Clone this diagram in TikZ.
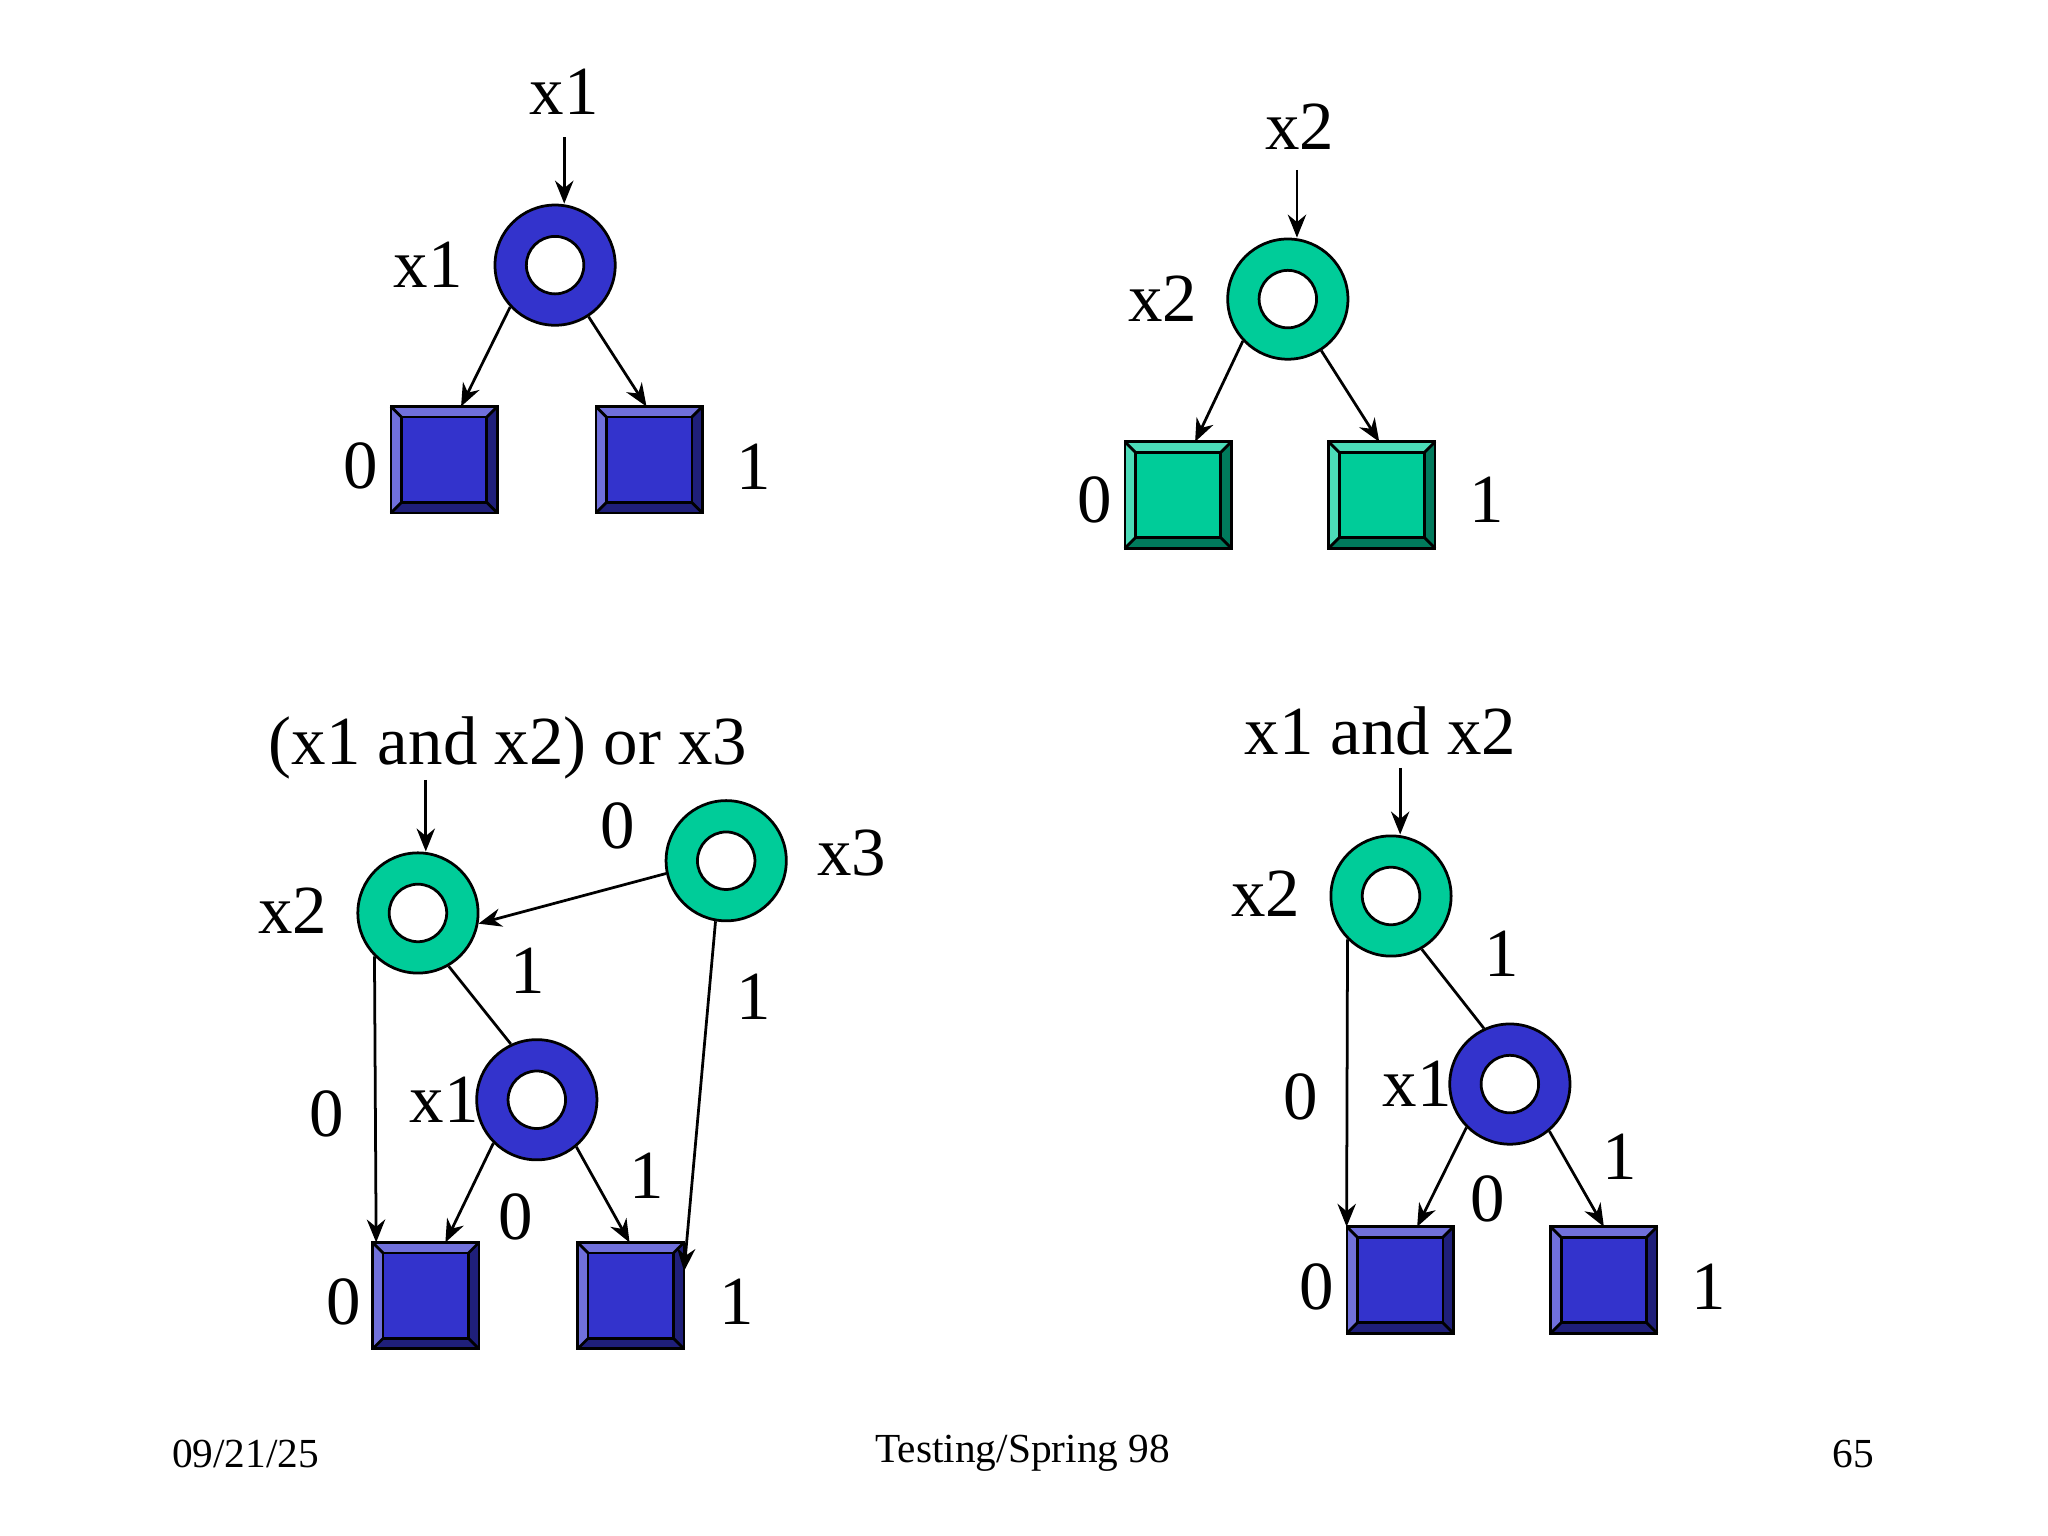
\documentclass[tikz,border=0pt]{standalone}
\usepackage{fontspec}
\setmainfont{Liberation Serif}
\usetikzlibrary{arrows.meta,calc}
\definecolor{bl}{RGB}{51,51,204}
\definecolor{gr}{RGB}{0,204,153}
\tikzset{
  lab/.style={font=\fontsize{15}{17}\selectfont, inner sep=0pt},
  foot/.style={font=\fontsize{9}{11}\selectfont, inner sep=0pt},
  ring/.style={circle, draw=black, line width=0.6pt, fill=#1, minimum size=0.92cm, inner sep=0pt},
  hole/.style={circle, draw=black, line width=0.6pt, fill=white, minimum size=0.44cm, inner sep=0pt},
  arr/.style={-{Stealth[length=5pt,width=4pt]}, line width=0.6pt},
  ln/.style={line width=0.6pt},
  sq/.style={minimum size=0.8cm, inner sep=0pt}
}
\newcommand{\mkring}[4]{\node[ring=#4] (#1) at (#2,#3) {}; \node[hole] at (#1) {};}
\newcommand{\mkbox}[4]{%
  \node[sq] (#1) at (#2,#3) {};
  \fill[#4] (#1.south west) rectangle (#1.north east);
  \fill[#4!70!white] (#1.south west) -- ($(#1.south west)+(8,-8)$) -- ($(#1.north west)+(8,8)$) -- ($(#1.north east)+(-8,8)$) -- (#1.north east) -- (#1.north west) -- cycle;
  \fill[#4!60!black] (#1.south west) -- ($(#1.south west)+(8,-8)$) -- ($(#1.south east)+(-8,-8)$) -- ($(#1.north east)+(-8,8)$) -- (#1.north east) -- (#1.south east) -- cycle;
  \draw[ln] ($(#1.south west)+(8,-8)$) rectangle ($(#1.north east)+(-8,8)$);
  \draw[ln] (#1.south west) -- ($(#1.south west)+(8,-8)$) (#1.north west) -- ($(#1.north west)+(8,8)$) (#1.north east) -- ($(#1.north east)+(-8,8)$) (#1.south east) -- ($(#1.south east)+(-8,-8)$);
  \draw[ln] (#1.south west) rectangle (#1.north east);}
\begin{document}
\begin{tikzpicture}[x=0.01cm,y=-0.01cm]
\useasboundingbox (0,0) rectangle (1568,1176);
% top-left
\node[lab] (t1) at (432,70) {x1};
\mkring{a}{425}{203}{bl}
\node[lab] at (328,203) {x1};
\mkbox{a0}{340}{352}{bl}\mkbox{a1}{497}{352}{bl}
\node[lab] at (276,357) {0};\node[lab] at (577,357) {1};
\coordinate (ta) at (432,105);
\draw[arr] (ta) -- (ta |- a.north);
\draw[arr] (a.-137) -- ($(a0.north)+(13,0)$);
\draw[arr] (a.-57) -- ($(a1.north)+(-2,0)$);
% top-right
\node[lab] (t2) at (995,97) {x2};
\mkring{b}{986}{229}{gr}
\node[lab] at (890,229) {x2};
\mkbox{b0}{902}{379}{gr}\mkbox{b1}{1058}{379}{gr}
\node[lab] at (838,383) {0};\node[lab] at (1138,383) {1};
\coordinate (tb) at (993,130);
\draw[arr] (tb) -- (tb |- b.north);
\draw[arr] (b.-137) -- ($(b0.north)+(13,0)$);
\draw[arr] (b.-57) -- ($(b1.north)+(-2,0)$);
% bottom-left
\node[lab] (t3) at (389,573) {(x1 and x2) or x3};
\mkring{c2}{320}{699}{gr}\node[lab] at (224,697) {x2};
\mkring{c3}{556}{659}{gr}\node[lab] at (652,653) {x3};
\mkring{c1}{411}{842}{bl}\node[lab] at (340,842) {x1};
\mkbox{c0}{326}{992}{bl}\mkbox{cb}{483}{992}{bl}
\node[lab] at (250,853) {0};\node[lab] at (404,743) {1};
\node[lab] at (473,632) {0};\node[lab] at (577,763) {1};
\node[lab] at (395,932) {0};\node[lab] at (495,900) {1};
\node[lab] at (263,997) {0};\node[lab] at (564,997) {1};
\coordinate (tc) at (326,597);
\draw[arr] (tc) -- (tc |- c2.north);
\draw[arr] (c3.-168) -- (c2.-10);
\draw[ln] (c2.-60) -- (c1.115);
\draw[arr] (c2.-135) -- ($(c0.north)+(-38,0)$);
\draw[arr] (c1.-135) -- ($(c0.north)+(15,0)$);
\draw[arr] (c1.-50) -- ($(cb.north)+(-1,0)$);
\draw[arr] (c3.-100) -- ($(cb.north east)+(0,22)$);
% bottom-right
\node[lab] (t4) at (1057,560) {x1 and x2};
\mkring{d2}{1065}{686}{gr}\node[lab] at (969,684) {x2};
\mkring{d1}{1156}{830}{bl}\node[lab] at (1085,830) {x1};
\mkbox{d0}{1072}{980}{bl}\mkbox{db}{1228}{980}{bl}
\node[lab] at (996,840) {0};\node[lab] at (1150,730) {1};
\node[lab] at (1240,886) {1};\node[lab] at (1139,918) {0};
\node[lab] at (1008,985) {0};\node[lab] at (1308,985) {1};
\coordinate (td) at (1072,588);
\draw[arr] (td) -- (td |- d2.north);
\draw[ln] (d2.-60) -- (d1.115);
\draw[arr] (d2.-135) -- ($(d0.north)+(-41,0)$);
\draw[arr] (d1.-135) -- ($(d0.north)+(13,0)$);
\draw[arr] (d1.-50) -- (db.north);
% footer
\node[foot] at (188,1113) {09/21/25};
\node[foot] at (783,1113) {Testing/Spring 98};
\node[foot] at (1419,1113) {65};
\end{tikzpicture}
\end{document}
